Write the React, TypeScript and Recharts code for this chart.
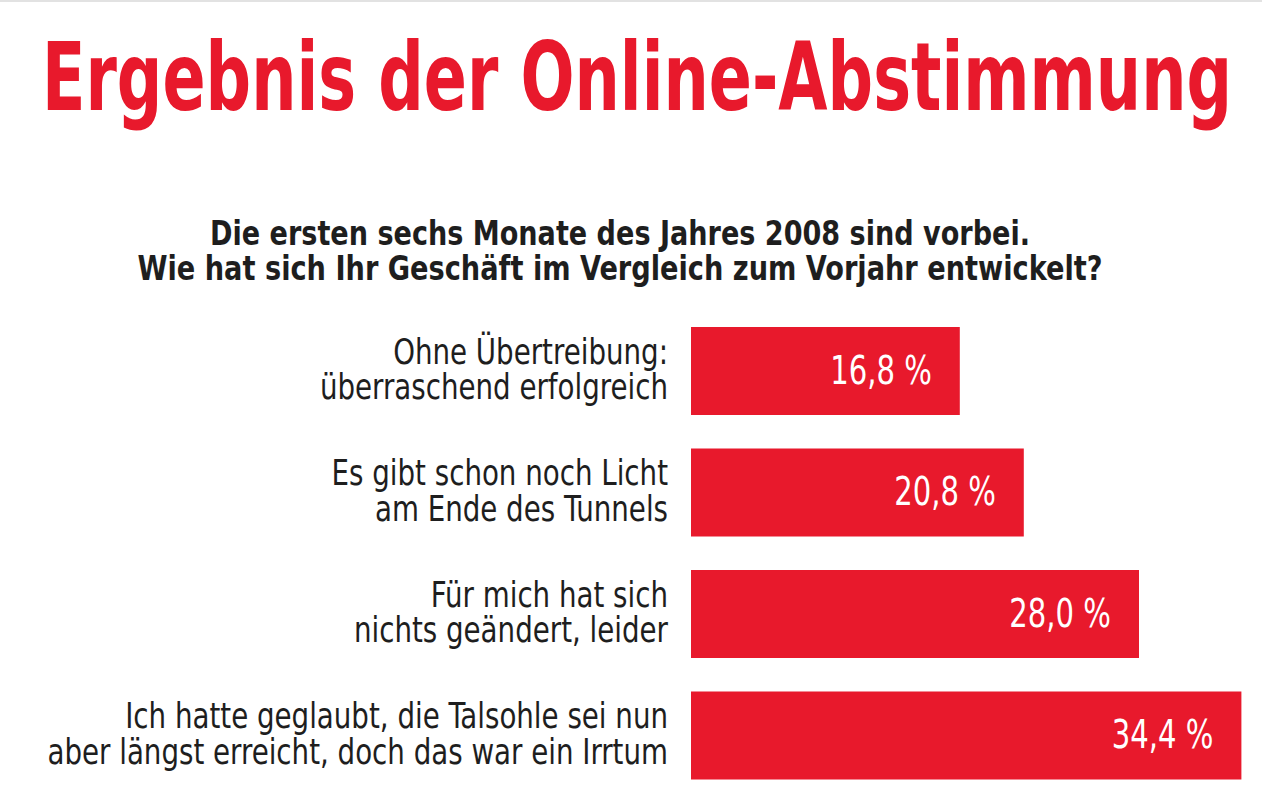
import React from "react";
import { BarChart, Bar, XAxis, YAxis, LabelList } from "recharts";

const categories: string[] = [
  "Ohne Übertreibung:\nüberraschend erfolgreich",
  "Es gibt schon noch Licht\nam Ende des Tunnels",
  "Für mich hat sich\nnichts geändert, leider",
  "Ich hatte geglaubt, die Talsohle sei nun\naber längst erreicht, doch das war ein Irrtum",
];
const values: number[] = [16.8, 20.8, 28.0, 34.4];
const valueLabels: string[] = ["16,8 %", "20,8 %", "28,0 %", "34,4 %"];

const titleText = "Ergebnis der Online-Abstimmung";
const subtitleLines: string[] = [
  "Die ersten sechs Monate des Jahres 2008 sind vorbei.",
  "Wie hat sich Ihr Geschäft im Vergleich zum Vorjahr entwickelt?",
];

const data = categories.map((name, i) => ({ name, value: values[i], label: valueLabels[i] }));

const RED = "#e8192c";
const DARK = "#1e1e1e";
const CONDENSED = '"DejaVu Sans Condensed", "Liberation Sans Narrow", sans-serif';

const CategoryTick = (props: any) => {
  const { x, y, payload } = props;
  const lines = String(payload.value).split("\n");
  return (
    <g transform={`translate(${x - 23}, ${y}) scale(0.867, 1)`}>
      {lines.map((ln, i) => (
        <text
          key={i}
          x={0}
          y={-7 + i * 35.5}
          textAnchor="end"
          fontFamily={CONDENSED}
          fontSize={35.5}
          fill={DARK}
        >
          {ln}
        </text>
      ))}
    </g>
  );
};

const ValueLabel = (props: any) => {
  const { x, y, width, height, value } = props;
  return (
    <g transform={`translate(${x + width - 28}, ${y + height / 2 + 12.5}) scale(0.84, 1)`}>
      <text x={0} y={0} textAnchor="end" fontFamily={CONDENSED} fontSize={38.5} fill="#ffffff">
        {value}
      </text>
    </g>
  );
};

export default function App() {
  return (
    <div style={{ position: "absolute", left: 0, top: 0, width: 1262, height: 808, background: "#ffffff" }}>
      <svg width={1262} height={808} style={{ position: "absolute", left: 0, top: 0 }}>
        <rect x={0} y={0} width={1262} height={2} fill="#e2e2e2" />
        <text
          x={637}
          y={110}
          textAnchor="middle"
          fontFamily={CONDENSED}
          fontWeight="bold"
          fontSize={94}
          fill={RED}
          textLength={1190}
          lengthAdjust="spacingAndGlyphs"
        >
          {titleText}
        </text>
        <text
          x={620}
          y={245}
          textAnchor="middle"
          fontFamily={CONDENSED}
          fontWeight="bold"
          fontSize={34}
          fill={DARK}
          textLength={820}
          lengthAdjust="spacingAndGlyphs"
        >
          {subtitleLines[0]}
        </text>
        <text
          x={620}
          y={280}
          textAnchor="middle"
          fontFamily={CONDENSED}
          fontWeight="bold"
          fontSize={34}
          fill={DARK}
          textLength={965}
          lengthAdjust="spacingAndGlyphs"
        >
          {subtitleLines[1]}
        </text>
      </svg>
      <div style={{ position: "absolute", left: 0, top: 0 }}>
        <BarChart
          width={1262}
          height={808}
          data={data}
          layout="vertical"
          margin={{ top: 310, right: 11, bottom: 12, left: 0 }}
          barSize={88}
        >
          <XAxis type="number" domain={[0, 35]} hide />
          <YAxis
            type="category"
            dataKey="name"
            width={691}
            axisLine={false}
            tickLine={false}
            tickMargin={0}
            tickSize={0}
            tick={<CategoryTick />}
            interval={0}
          />
          <Bar dataKey="value" fill={RED} isAnimationActive={false}>
            <LabelList dataKey="label" content={<ValueLabel />} />
          </Bar>
        </BarChart>
      </div>
    </div>
  );
}
